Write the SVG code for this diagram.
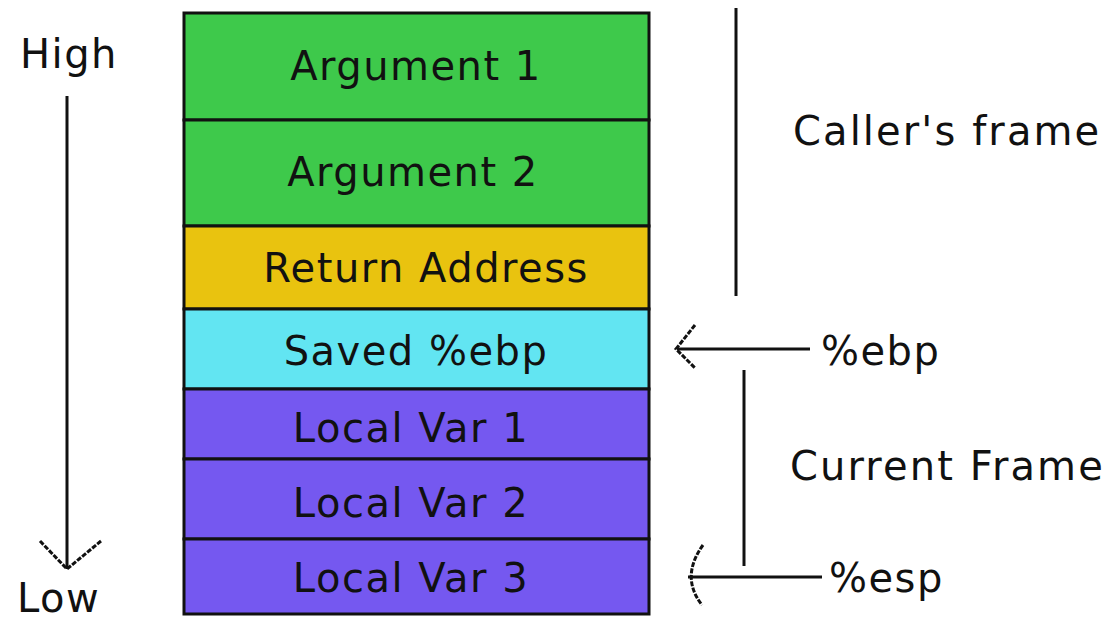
<svg xmlns="http://www.w3.org/2000/svg" width="1113" height="619" viewBox="0 0 1113 619">
<style>
text{font-family:"DejaVu Sans","Liberation Sans",sans-serif;font-size:40px;fill:#111;letter-spacing:1.5px}
.c{text-anchor:middle}
.w{letter-spacing:2.1px}
.box{stroke:#111;stroke-width:3}
.ln{stroke:#111;stroke-width:3;fill:none}
.head{stroke:#111;stroke-width:3;fill:none;stroke-dasharray:5 1.5}
</style>
<rect width="1113" height="619" fill="#fff"/>
<g id="arg1"><rect class="box" x="184" y="13" width="465" height="107" fill="#3ec94b"/><text class="c" x="416" y="80">Argument 1</text></g>
<g id="arg2"><rect class="box" x="184" y="120" width="465" height="106" fill="#3ec94b"/><text class="c" x="413" y="186">Argument 2</text></g>
<g id="ret"><rect class="box" x="184" y="226" width="465" height="83" fill="#e9c30f"/><text class="c" x="426" y="282">Return Address</text></g>
<g id="ebp"><rect class="box" x="184" y="309" width="465" height="80" fill="#62e5f2"/><text class="c" x="416" y="365">Saved %ebp</text></g>
<g id="lv1"><rect class="box" x="184" y="389" width="465" height="70" fill="#7558f0"/><text class="c" x="411" y="442">Local Var 1</text></g>
<g id="lv2"><rect class="box" x="184" y="459" width="465" height="80" fill="#7558f0"/><text class="c" x="411" y="517">Local Var 2</text></g>
<g id="lv3"><rect class="box" x="184" y="539" width="465" height="75" fill="#7558f0"/><text class="c" x="411" y="592">Local Var 3</text></g>
<g id="labels">
<text x="20" y="68">High</text>
<text x="17" y="612">Low</text>
<text class="w" x="793" y="145">Caller's frame</text>
<text class="w" x="790" y="480">Current Frame</text>
<text x="821" y="365">%ebp</text>
<text x="829" y="592">%esp</text>
</g>
<g id="connectors">
<line class="ln" x1="67" y1="96" x2="67" y2="569"/>
<polyline class="head" points="40,541 67,569 101,541"/>
<line class="ln" x1="736" y1="8" x2="736" y2="296"/>
<line class="ln" x1="744" y1="370" x2="744" y2="566"/>
<line class="ln" x1="677" y1="349" x2="810" y2="349"/>
<polyline class="head" points="695,325 676,349 695,368"/>
<line class="ln" x1="688" y1="577" x2="822" y2="577"/>
<path class="head" d="M703,545 Q680,577 702,605"/>
</g>
</svg>
